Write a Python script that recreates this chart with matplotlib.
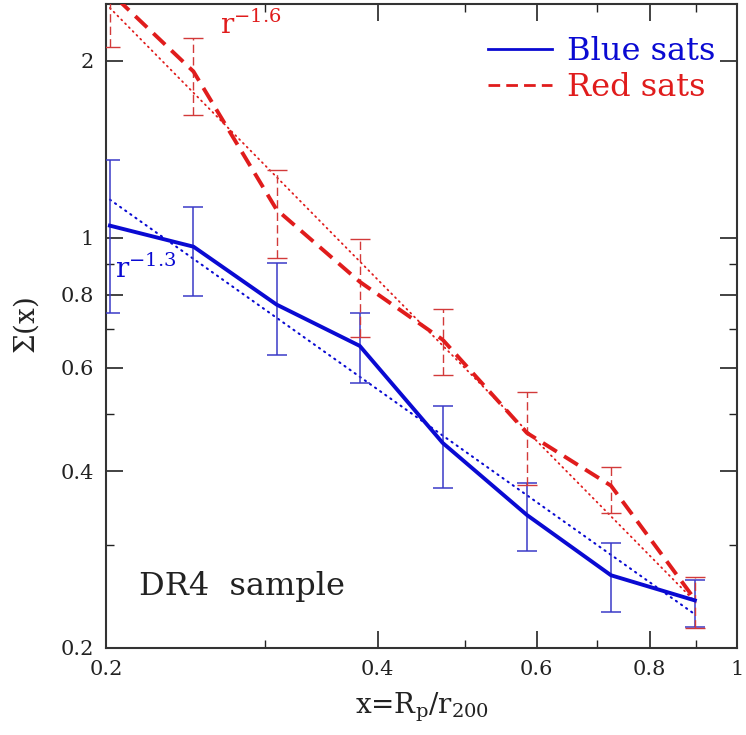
import matplotlib
matplotlib.use("Agg")
import matplotlib.pyplot as plt
import numpy as np
from matplotlib.ticker import FixedLocator, NullFormatter

# ── Data ─────────────────────────────────────────────────────────────────────
x_bins = [0.202, 0.250, 0.309, 0.382, 0.472, 0.585, 0.725, 0.898]

blue_sigma = [1.048, 0.965, 0.769, 0.654, 0.447, 0.337, 0.266, 0.241]
blue_hi    = [1.358, 1.129, 0.906, 0.745, 0.517, 0.382, 0.302, 0.261]
blue_lo    = [0.745, 0.796, 0.632, 0.566, 0.375, 0.292, 0.230, 0.217]

red_sigma = [2.62, 1.918, 1.116, 0.841, 0.670, 0.465, 0.378, 0.242]
red_hi    = [3.10, 2.190, 1.306, 0.996, 0.757, 0.546, 0.407, 0.264]
red_lo    = [2.108, 1.620, 0.924, 0.678, 0.584, 0.379, 0.340, 0.216]

# power-law guide lines  Sigma = amp * x**(-index)
blue_fit_amp, blue_fit_index = 0.203, 1.09
red_fit_amp, red_fit_index = 0.203, 1.56

BLUE = '#0a0ad2'
RED = '#e01c1c'
BLUE_ERR = '#3a3ac8'
RED_ERR = '#d23a3a'

plt.rcParams['font.family'] = 'DejaVu Serif'
plt.rcParams['mathtext.fontset'] = 'dejavuserif'

fig = plt.figure(figsize=(7.46, 7.35), dpi=100, facecolor='white')
ax = fig.add_axes([0.1421, 0.1184, 0.8459, 0.8762])
ax.set_xscale('log')
ax.set_yscale('log')

xb = np.array(x_bins)

# ── Guide lines ──────────────────────────────────────────────────────────────
xf = np.linspace(xb[0], xb[-1], 50)
ax.plot(xf, blue_fit_amp * xf ** (-blue_fit_index), color=BLUE, lw=1.5,
        linestyle=(0, (0.6, 2.4)), dash_capstyle='round', zorder=2)
ax.plot(xf, red_fit_amp * xf ** (-red_fit_index), color=RED, lw=1.3,
        linestyle=(0, (0.6, 2.4)), dash_capstyle='round', zorder=2)

# ── Blue satellites ──────────────────────────────────────────────────────────
bs = np.array(blue_sigma)
ax.errorbar(xb, bs, yerr=[bs - np.array(blue_lo), np.array(blue_hi) - bs],
            fmt='none', ecolor=BLUE_ERR, elinewidth=1.1, capsize=7,
            capthick=1.1, zorder=3)
ax.plot(xb, bs, color=BLUE, lw=2.8, label='Blue sats', zorder=4)

# ── Red satellites ───────────────────────────────────────────────────────────
rs = np.array(red_sigma)
eb = ax.errorbar(xb, rs, yerr=[rs - np.array(red_lo), np.array(red_hi) - rs],
                 fmt='none', ecolor=RED_ERR, elinewidth=1.0, capsize=7,
                 capthick=1.0, zorder=3)
eb[2][0].set_linestyle((0, (6, 3)))
ax.plot(xb, rs, color=RED, lw=2.8, linestyle=(0, (4.2, 2.2)),
        label='Red sats', zorder=5)

# ── Axes ─────────────────────────────────────────────────────────────────────
ax.set_xlim(0.2, 1.0)
ax.set_ylim(0.2, 2.5)

ax.xaxis.set_major_locator(FixedLocator([0.2, 0.4, 0.6, 0.8, 1.0]))
ax.xaxis.set_minor_locator(FixedLocator([0.3, 0.5, 0.7, 0.9]))
ax.set_xticklabels(['0.2', '0.4', '0.6', '0.8', '1'])
ax.xaxis.set_minor_formatter(NullFormatter())

ax.yaxis.set_major_locator(FixedLocator([0.2, 0.4, 0.6, 0.8, 1.0, 2.0]))
ax.yaxis.set_minor_locator(FixedLocator([0.3, 0.5, 0.7, 0.9]))
ax.set_yticklabels(['0.2', '0.4', '0.6', '0.8', '1', '2'])
ax.yaxis.set_minor_formatter(NullFormatter())

ax.tick_params(which='both', direction='in', top=True, right=True,
               color='#222222', labelsize=15, labelcolor='#222222')
ax.tick_params(which='major', length=12, width=1.2, pad=9)
ax.tick_params(which='minor', length=6, width=1.0)
for s in ax.spines.values():
    s.set_linewidth(1.5)
    s.set_color('#333333')

ax.set_xlabel(r'x=R$_\mathrm{p}$/r$_\mathrm{200}$', fontsize=20,
              color='#222222', labelpad=8)
ax.set_ylabel(r'$\Sigma$(x)', fontsize=20, color='#222222', labelpad=14)

# ── Annotations ──────────────────────────────────────────────────────────────
ax.text(0.18, 0.99, r'r$^{-1.6}$', transform=ax.transAxes, color=RED,
        fontsize=20, ha='left', va='top')
ax.text(0.015, 0.61, r'r$^{-1.3}$', transform=ax.transAxes, color=BLUE,
        fontsize=20, ha='left', va='top')
ax.text(0.052, 0.095, 'DR4  sample', transform=ax.transAxes, color='#222222',
        fontsize=23, ha='left', va='center')

leg = ax.legend(loc='upper right', bbox_to_anchor=(1.012, 0.995),
                frameon=False, fontsize=23, handlelength=2.0,
                handletextpad=0.5, labelspacing=0.15, labelcolor='linecolor')
for line in leg.get_lines():
    line.set_linewidth(2.0)

fig.savefig('out.png', dpi=100, facecolor='white')
